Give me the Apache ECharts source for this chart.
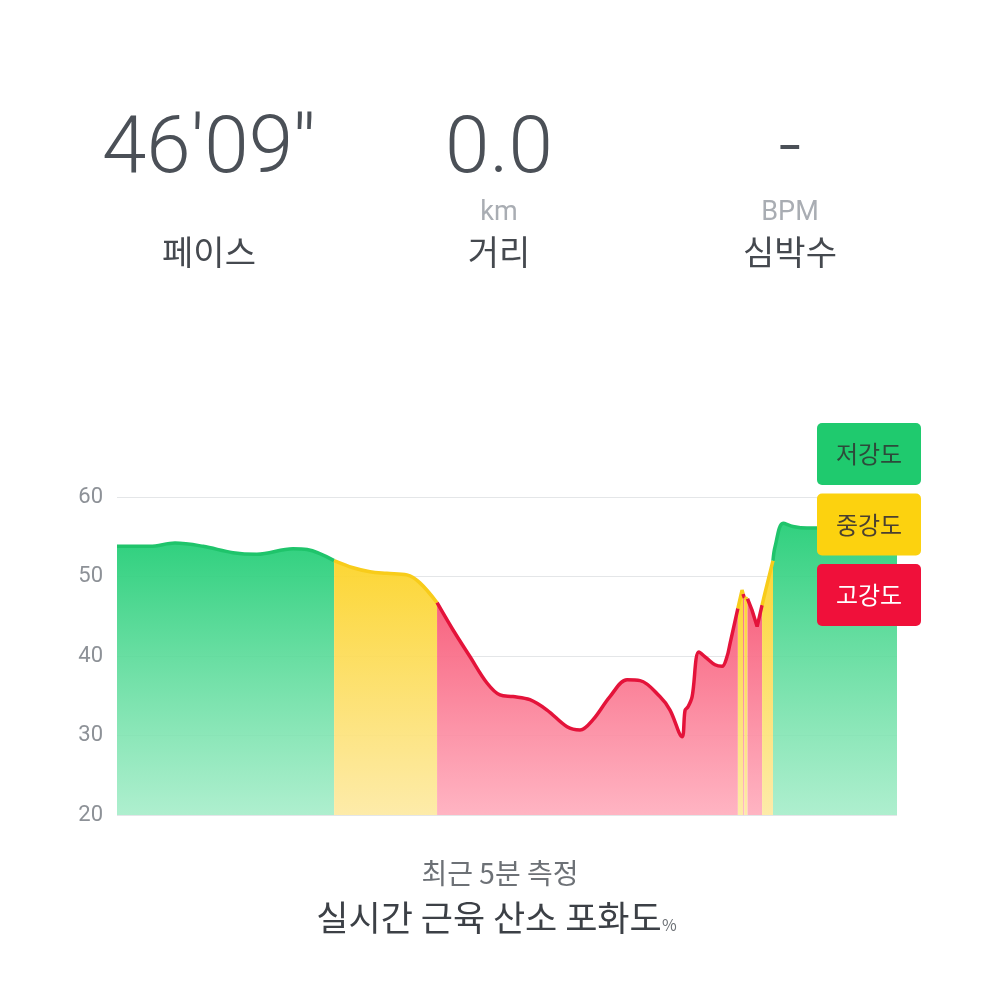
<!DOCTYPE html>
<html>
<head>
<meta charset="utf-8">
<script src="https://cdn.jsdelivr.net/npm/echarts@6/dist/echarts.min.js"></script>
<style>
html,body{margin:0;padding:0;background:#fff;}
#main{width:1000px;height:1000px;}
</style>
</head>
<body>
<div id="main"></div>
<script>
// time (s) within the last 5 minutes
var times = [0, 12.7, 22.3, 33.1, 44.6, 53.8, 67.7, 73.1, 83.5,
  90.8, 97.3, 103.8, 111.5, 116.5, 123.1,
  129.2, 135.8, 142.3, 147.3, 152.3, 158.8, 165.4, 173.1, 178.1, 183.1, 189.6, 196.2, 201.2,
  208.8, 212.7, 217.3, 218.5, 219.6, 221.2, 223.8, 226.9, 230.0, 232.7, 234.6, 235.8, 238.8,
  240.4, 240.8, 241.3, 242.5, 244.2, 246.2, 248.1, 249.2, 252.3,
  253.1, 256.2, 260.0, 265.4, 269.2, 281.9, 300];
// muscle oxygen saturation (%)
var values = [53.8, 53.8, 54.2, 53.8, 53.0, 52.8, 53.5, 53.4, 52.0,
  51.1, 50.6, 50.4, 50.2, 49.2, 46.7,
  43.3, 39.9, 36.6, 35.1, 34.9, 34.5, 33.2, 31.1, 30.7, 32.0, 34.9, 37.0, 36.9,
  34.9, 33.2, 29.85, 33.2, 33.6, 34.9, 40.5, 39.7, 38.9, 38.7, 39.9, 41.6, 46.0,
  48.3, 47.8, 47.3, 47.2, 45.8, 43.7, 46.4, 47.9, 52.0,
  53.75, 56.7, 56.3, 56.1, 56.1, 56.0, 56.0];
// intensity zones
var zoneStart = [0, 83.5, 123.1, 238.8, 240.8, 241.3, 242.5, 248.1, 252.3];
var zoneEnd   = [83.5, 123.1, 238.8, 240.8, 241.3, 242.5, 248.1, 252.3, 300];
var zoneType  = ['low', 'mid', 'high', 'mid', 'high', 'mid', 'high', 'mid', 'low'];
var yTicks = [20, 30, 40, 50, 60];
var legendLabels = ['저강도', '중강도', '고강도'];
var stats = [
  {value: "46'09''", unit: '', label: '페이스'},
  {value: '0.0', unit: 'km', label: '거리'},
  {value: '-', unit: 'BPM', label: '심박수'}
];

var palette = {
  low:  {line: '#1fc46b', top: 'rgba(38,206,120,0.95)', bottom: 'rgba(160,236,198,0.85)', box: '#1fca6e', text: '#2d4a3a'},
  mid:  {line: '#f8cc1a', top: 'rgba(252,212,42,0.95)', bottom: 'rgba(253,233,160,0.9)', box: '#fcd20f', text: '#4a4030'},
  high: {line: '#e4133a', top: 'rgba(247,90,120,0.95)', bottom: 'rgba(255,172,188,0.9)', box: '#f0103a', text: '#ffffff'}
};

var series = [];
for (var z = 0; z < zoneStart.length; z++) {
  var pts = [];
  for (var i = 0; i < times.length; i++) {
    if (times[i] >= zoneStart[z] && times[i] <= zoneEnd[z]) pts.push([times[i], values[i]]);
  }
  var p = palette[zoneType[z]];
  series.push({
    type: 'line',
    data: pts,
    smooth: pts.length > 4 ? 0.35 : false,
    symbol: 'none',
    lineStyle: {color: p.line, width: 3.5},
    areaStyle: {
      opacity: 1,
      color: new echarts.graphic.LinearGradient(0, 0, 0, 1, [
        {offset: 0, color: p.top}, {offset: 1, color: p.bottom}
      ])
    },
    z: 2
  });
}

var graphics = [];
var cx = [209, 499, 790];
stats.forEach(function (s, k) {
  graphics.push({type: 'text', x: cx[k], y: 152, z: 10, style: {
    text: s.value, x: 0, y: 0, textAlign: 'center', textVerticalAlign: 'middle',
    fontFamily: 'Roboto', fontSize: 80, fontWeight: 300, fill: '#4b5057'}});
  if (s.unit) graphics.push({type: 'text', x: cx[k], y: 213, z: 10, style: {
    text: s.unit, textAlign: 'center', textVerticalAlign: 'middle',
    fontFamily: 'Roboto', fontSize: 27, fill: '#a9adb3'}});
  graphics.push({type: 'text', x: cx[k], y: 252, z: 10, style: {
    text: s.label, textAlign: 'center', textVerticalAlign: 'middle',
    fontFamily: 'Noto Sans CJK KR', fontSize: 34, fill: '#45494f'}});
});
var boxKeys = ['low', 'mid', 'high'];
legendLabels.forEach(function (lab, k) {
  var p = palette[boxKeys[k]];
  graphics.push({type: 'rect', z: 20, shape: {x: 817, y: 423 + k * 70.5, width: 104, height: 62, r: 5},
    style: {fill: p.box}});
  graphics.push({type: 'text', z: 21, x: 869, y: 454 + k * 70.5, style: {
    text: lab, textAlign: 'center', textVerticalAlign: 'middle',
    fontFamily: 'Noto Sans CJK KR', fontSize: 24, fill: p.text}});
});
graphics.push({type: 'text', x: 500, y: 873, style: {
  text: '최근 5분 측정', textAlign: 'center', textVerticalAlign: 'middle',
  fontFamily: 'Noto Sans CJK KR', fontSize: 28, fill: '#6d7176'}});
graphics.push({type: 'text', x: 489, y: 918, style: {
  text: '실시간 근육 산소 포화도', textAlign: 'center', textVerticalAlign: 'middle',
  fontFamily: 'Noto Sans CJK KR', fontSize: 35, fill: '#3c4046'}});
graphics.push({type: 'text', x: 662, y: 925, style: {
  text: '%', textAlign: 'left', textVerticalAlign: 'middle',
  fontFamily: 'Noto Sans CJK KR', fontSize: 16, fill: '#6d7176'}});

var chart = echarts.init(document.getElementById('main'));
chart.setOption({
  backgroundColor: '#ffffff',
  animation: false,
  grid: {left: 117, right: 103, top: 497, bottom: 185},
  xAxis: {type: 'value', min: 0, max: 300, show: false},
  yAxis: {
    type: 'value', min: yTicks[0], max: yTicks[yTicks.length - 1], interval: 10,
    axisLine: {show: false}, axisTick: {show: false},
    axisLabel: {color: '#8d9197', fontSize: 22, margin: 14, fontFamily: 'Roboto'},
    splitLine: {lineStyle: {color: '#e4e6e8', width: 1}}
  },
  series: series,
  graphic: graphics
});
</script>
</body>
</html>
